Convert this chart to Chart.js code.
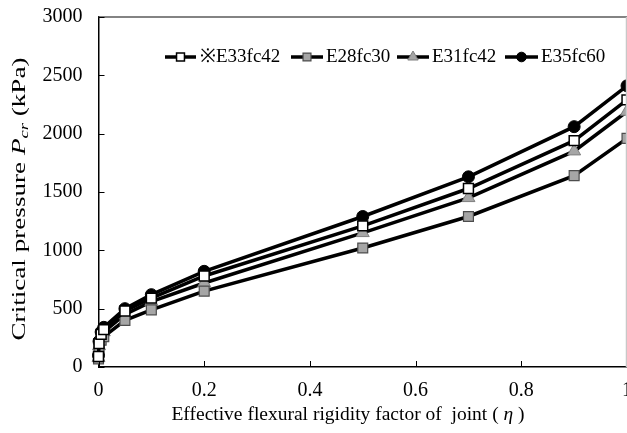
<!DOCTYPE html>
<html>
<head>
<meta charset="utf-8">
<script src="https://cdn.jsdelivr.net/npm/chart.js@4"></script>
<style>
  html, body { margin: 0; padding: 0; background: #fff; }
  #wrap { width: 627px; height: 433px; position: relative; }
</style>
</head>
<body>
<div id="wrap"><canvas id="chart"></canvas></div>
<script>
const eta = [0, 0.001, 0.005, 0.01, 0.05, 0.1, 0.2, 0.5, 0.7, 0.9, 1];
const e33fc42 = [90, 200, 280, 320, 480, 590, 780, 1210, 1530, 1940, 2290];
const e28fc30 = [70, 160, 230, 260, 400, 490, 650, 1020, 1290, 1640, 1960];
const e31fc42 = [80, 180, 260, 300, 450, 560, 720, 1150, 1450, 1850, 2190];
const e35fc60 = [100, 220, 300, 340, 500, 620, 820, 1290, 1630, 2060, 2410];
const yTicks = [0, 500, 1000, 1500, 2000, 2500, 3000];
const xTicks = [0, 0.2, 0.4, 0.6, 0.8, 1];

const serif = "'Liberation Serif', 'Times New Roman', serif";

const series = [
  { label: '※E33fc42', values: e33fc42, style: 'rect', radius: 7, fill: '#ffffff', border: '#000000', bw: 1.5 },
  { label: 'E28fc30', values: e28fc30, style: 'rect', radius: 7, fill: '#a6a6a6', border: '#4d4d4d', bw: 1.2 },
  { label: 'E31fc42', values: e31fc42, style: 'triangle', radius: 7.5, fill: '#a6a6a6', border: '#7f7f7f', bw: 1 },
  { label: 'E35fc60', values: e35fc60, style: 'circle', radius: 6, fill: '#000000', border: '#000000', bw: 1 }
];

function marker(ctx, style, x, y, r, fill, border, bw) {
  ctx.save();
  ctx.fillStyle = fill;
  ctx.strokeStyle = border;
  ctx.lineWidth = bw;
  ctx.beginPath();
  if (style === 'rect') {
    const s = r * Math.SQRT1_2;
    ctx.rect(x - s, y - s, 2 * s, 2 * s);
  } else if (style === 'triangle') {
    ctx.moveTo(x, y - r);
    ctx.lineTo(x + r * 0.866, y + r * 0.5);
    ctx.lineTo(x - r * 0.866, y + r * 0.5);
    ctx.closePath();
  } else {
    ctx.arc(x, y, r, 0, Math.PI * 2);
  }
  ctx.fill();
  ctx.stroke();
  ctx.restore();
}

function drawParts(ctx, parts, cx, cy, length) {
  let total = 0;
  parts.forEach(p => { ctx.font = p.f; total += ctx.measureText(p.t).width; });
  const k = length ? length / total : 1;
  ctx.save();
  ctx.translate(cx, cy);
  ctx.scale(k, 1);
  let px = -total / 2;
  ctx.textBaseline = 'middle';
  ctx.textAlign = 'left';
  ctx.fillStyle = '#000';
  parts.forEach(p => {
    ctx.font = p.f;
    ctx.fillText(p.t, px, p.dy || 0);
    px += ctx.measureText(p.t).width;
  });
  ctx.restore();
}

// frame, inward ticks, x labels, legend and axis titles
const decorations = {
  id: 'decorations',
  afterDraw(chart) {
    const { ctx, chartArea: a, scales: { x, y } } = chart;
    ctx.save();
    // top and right frame lines
    ctx.lineWidth = 1.5;
    ctx.strokeStyle = '#5a5a5a';
    ctx.beginPath();
    ctx.moveTo(a.left, a.top);
    ctx.lineTo(a.right, a.top);
    ctx.stroke();
    ctx.strokeStyle = '#c8c8c8';
    ctx.beginPath();
    ctx.moveTo(a.right - 0.5, a.top);
    ctx.lineTo(a.right - 0.5, a.bottom);
    ctx.stroke();

    // tick marks pointing into the plot
    ctx.strokeStyle = '#000';
    ctx.lineWidth = 1;
    yTicks.forEach(v => {
      const py = Math.round(y.getPixelForValue(v)) + 0.5;
      ctx.beginPath();
      ctx.moveTo(a.left, py);
      ctx.lineTo(a.left + 6, py);
      ctx.stroke();
    });
    xTicks.forEach(v => {
      const px = Math.round(x.getPixelForValue(v)) + 0.5;
      ctx.beginPath();
      ctx.moveTo(px, a.bottom);
      ctx.lineTo(px, a.bottom - 6);
      ctx.stroke();
    });

    // x tick labels
    ctx.font = `20px ${serif}`;
    ctx.fillStyle = '#000';
    ctx.textAlign = 'center';
    ctx.textBaseline = 'middle';
    xTicks.forEach(v => {
      ctx.fillText(String(v), x.getPixelForValue(v), 391);
    });

    // legend: line + marker + text
    const legendY = 57;
    const items = [
      { x0: 165, x1: 196, tx: 200 },
      { x0: 291, x1: 323, tx: 326 },
      { x0: 397, x1: 429, tx: 432 },
      { x0: 505, x1: 538, tx: 541 }
    ];
    ctx.font = `19px ${serif}`;
    ctx.textAlign = 'left';
    series.forEach((s, i) => {
      const it = items[i];
      ctx.lineWidth = 3.5;
      ctx.strokeStyle = '#000';
      ctx.beginPath();
      ctx.moveTo(it.x0, legendY);
      ctx.lineTo(it.x1, legendY);
      ctx.stroke();
      marker(ctx, s.style, (it.x0 + it.x1) / 2, legendY, s.radius * 0.8, s.fill, s.border, s.bw);
      ctx.fillStyle = '#000';
      ctx.fillText(s.label, it.tx, legendY);
    });

    // x axis title
    drawParts(ctx, [
      { t: 'Effective flexural rigidity factor of  joint ( ', f: `19.5px ${serif}` },
      { t: 'η', f: `italic 19.5px ${serif}` },
      { t: ' )', f: `19.5px ${serif}` }
    ], 348, 415);

    // y axis title, rotated
    ctx.translate(20, 199);
    ctx.rotate(-Math.PI / 2);
    drawParts(ctx, [
      { t: 'Critical pressure ', f: `19px ${serif}` },
      { t: 'P', f: `italic 19px ${serif}` },
      { t: 'cr', f: `italic 13px ${serif}`, dy: 5 },
      { t: ' (kPa)', f: `19px ${serif}` }
    ], 0, 0, 283);
    ctx.restore();
  }
};

new Chart(document.getElementById('chart'), {
  type: 'scatter',
  data: {
    datasets: series.map(s => ({
      label: s.label,
      data: eta.map((v, i) => ({ x: v, y: s.values[i] })),
      showLine: true,
      borderColor: '#000',
      borderWidth: 3.5,
      tension: 0,
      pointStyle: s.style,
      pointRadius: s.radius,
      pointHoverRadius: s.radius,
      pointBackgroundColor: s.fill,
      pointBorderColor: s.border,
      pointBorderWidth: s.bw,
      clip: false
    }))
  },
  options: {
    responsive: true,
    maintainAspectRatio: false,
    animation: false,
    layout: { autoPadding: false, padding: { left: 0, right: 0, top: 17, bottom: 0 } },
    plugins: { legend: { display: false }, tooltip: { enabled: false } },
    scales: {
      x: {
        type: 'linear',
        min: 0,
        max: 1,
        afterBuildTicks: s => { s.ticks = xTicks.map(v => ({ value: v })); },
        afterFit: s => { s.height = 66; },
        grid: { display: false, drawTicks: false },
        border: { display: true, color: '#000', width: 1.5 },
        ticks: { display: false }
      },
      y: {
        min: 0,
        max: 3000,
        afterBuildTicks: s => { s.ticks = yTicks.map(v => ({ value: v })); },
        afterFit: s => { s.width = 98.5; s.paddingTop = 0; s.paddingBottom = 0; },
        grid: { display: false, drawTicks: false },
        border: { display: true, color: '#000', width: 1.5 },
        ticks: {
          padding: 16,
          color: '#000',
          font: { family: serif, size: 20 },
          callback: v => String(v)
        }
      }
    }
  },
  plugins: [decorations]
});
</script>
</body>
</html>
